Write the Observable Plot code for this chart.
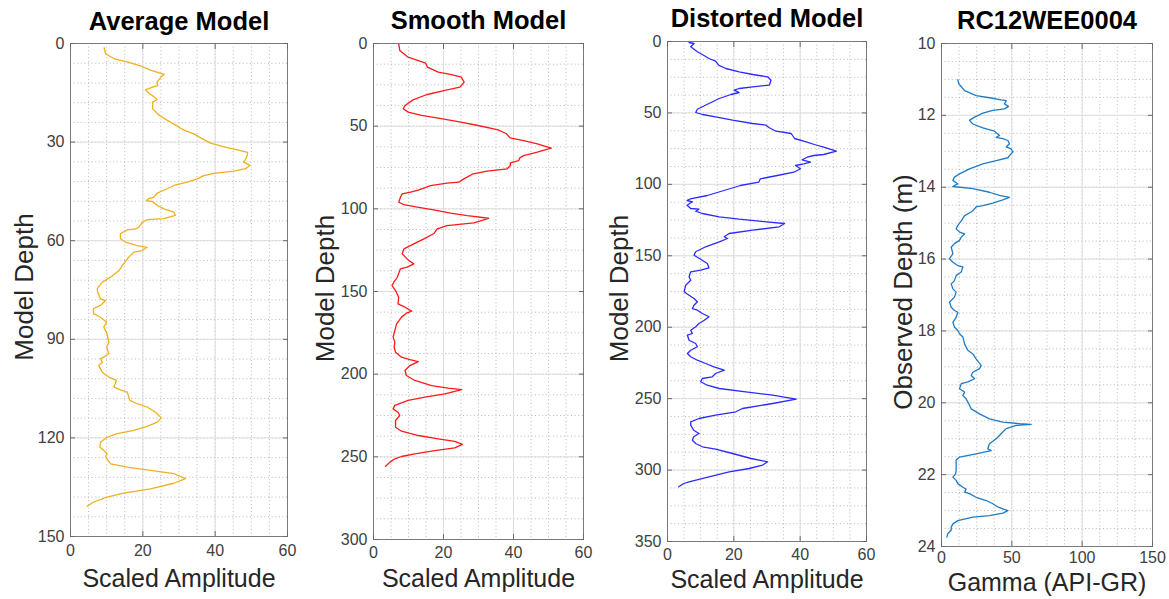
<!DOCTYPE html>
<html>
<head>
<meta charset="utf-8">
<script src="https://cdn.jsdelivr.net/npm/d3@7"></script>
<script src="https://cdn.jsdelivr.net/npm/@observablehq/plot@0.6"></script>
<style>
html, body { margin: 0; padding: 0; background: #fff; }
#chart { position: relative; width: 1169px; height: 599px; overflow: hidden; background: #fff; }
#chart svg { position: absolute; top: 0; }
</style>
</head>
<body>
<div id="chart"></div>
<script>
// ---------- tick labels ----------
const ampTicks = [0, 20, 40, 60];
const avgDepthTicks = [0, 30, 60, 90, 120, 150];
const smoothDepthTicks = [0, 50, 100, 150, 200, 250, 300];
const distortedDepthTicks = [0, 50, 100, 150, 200, 250, 300, 350];
const gammaTicks = [0, 50, 100, 150];
const observedDepthTicks = [10, 12, 14, 16, 18, 20, 22, 24];

// ---------- titles / labels ----------
const titles = ["Average Model", "Smooth Model", "Distorted Model", "RC12WEE0004"];
const xLabels = ["Scaled Amplitude", "Scaled Amplitude", "Scaled Amplitude", "Gamma (API-GR)"];
const yLabels = ["Model Depth", "Model Depth", "Model Depth", "Observed Depth (m)"];

// ---------- series: [depth, value] ----------
const averageModel = [
 [1.3,9.3],[3.1,9.7],[4.7,12.2],[5.7,15.9],[6.7,19.1],[8.2,22.3],[9.4,25.9],[10.2,25.0],[11.8,23.9],[12.8,24.1],
 [13.3,22.7],[14.1,20.7],[15.3,21.8],[16.1,23.0],[17.1,23.9],[17.8,22.7],[19.9,22.7],[21.9,24.6],[23.4,26.8],[25.0,29.3],
 [26.3,31.2],[27.5,34.1],[29.0,36.5],[30.3,38.7],[31.7,43.3],[32.6,47.0],[33.1,49.0],[34.6,48.7],[36.1,47.9],[37.1,49.6],
 [38.1,48.4],[38.8,45.2],[39.5,39.6],[40.2,36.9],[41.2,35.0],[42.2,32.3],[43.2,28.6],[44.2,26.7],[45.5,24.0],[46.8,23.0],
 [47.2,21.6],[47.8,21.0],[48.1,22.6],[49.3,24.0],[50.3,25.8],[51.3,28.6],[52.3,29.0],[53.3,25.8],[53.6,21.2],[54.4,19.8],
 [55.9,18.9],[56.4,18.0],[56.7,15.7],[57.9,13.8],[59.4,13.8],[60.4,15.2],[61.5,18.4],[62.0,21.2],[63.0,19.8],[63.5,17.5],
 [65.0,16.1],[67.0,14.7],[69.1,13.4],[71.1,11.1],[72.6,8.8],[74.6,7.4],[75.6,7.5],[77.7,8.3],[78.2,9.7],[79.7,8.3],
 [80.7,6.3],[82.2,6.4],[83.3,8.3],[84.8,10.0],[86.3,9.2],[88.3,10.1],[90.9,10.6],[92.4,10.0],[94.4,10.6],[95.4,9.2],
 [95.9,8.3],[97.0,8.8],[98.0,7.8],[100.0,8.8],[101.5,10.6],[102.5,12.7],[104.5,12.0],[105.4,13.8],[106.1,15.7],[108.6,16.4],
 [109.6,18.4],[110.6,21.2],[112.2,23.5],[113.9,25.1],[115.2,24.0],[116.5,21.2],[117.7,17.5],[118.7,12.9],[119.8,10.1],[121.3,8.3],
 [122.8,8.1],[123.8,9.2],[124.8,10.1],[125.8,9.7],[127.9,11.1],[128.9,15.7],[129.9,22.1],[130.9,28.6],[132.4,31.8],[133.8,28.6],
 [135.5,22.1],[136.8,14.7],[138.0,10.1],[139.5,6.4],[140.8,4.6]
];

const smoothModel = [
 [0.2,7.2],[4.2,7.5],[8.3,9.9],[10.3,12.8],[11.9,14.9],[14.3,15.4],[17.3,18.5],[18.8,22.3],[20.4,25.1],[23.4,25.9],
 [26.4,24.7],[28.4,20.4],[31.0,15.1],[34.1,11.3],[37.5,9.0],[39.5,8.5],[41.5,9.9],[43.5,13.7],[45.2,18.5],[47.2,24.2],
 [49.6,29.9],[52.2,35.6],[54.6,38.0],[57.1,39.0],[58.7,42.9],[60.7,46.8],[63.3,50.8],[65.7,46.8],[67.8,42.9],[69.2,41.8],
 [70.8,41.5],[72.2,39.1],[73.8,39.1],[75.8,38.2],[77.2,32.5],[78.8,28.5],[80.5,27.0],[81.9,25.8],[83.9,24.4],[84.5,21.0],
 [85.9,16.3],[88.5,13.0],[89.9,10.6],[90.9,8.2],[93.0,7.7],[96.0,7.2],[97.4,8.7],[99.0,12.5],[100.6,17.2],[102.6,22.0],
 [104.1,26.8],[105.7,32.9],[108.5,28.7],[110.1,21.0],[112.1,18.2],[115.1,17.2],[118.2,14.4],[121.2,11.5],[124.2,8.7],[127.2,8.2],
 [131.3,10.1],[133.3,11.5],[135.3,9.6],[136.3,7.7],[141.4,6.8],[144.4,5.8],[146.4,5.3],[149.4,6.3],[153.5,7.2],[157.5,7.0],
 [159.5,9.0],[161.9,10.9],[163.1,9.4],[165.5,8.0],[169.6,6.6],[173.6,6.1],[177.6,5.6],[180.6,6.1],[183.7,5.9],[186.7,6.3],
 [189.7,8.0],[191.2,10.4],[192.4,12.8],[194.8,10.4],[197.8,9.0],[200.8,9.4],[203.8,11.8],[206.9,16.6],[208.5,21.3],[209.4,25.2],
 [211.9,20.4],[213.9,14.7],[215.9,9.9],[218.9,6.1],[221.0,5.6],[223.0,7.0],[225.0,7.5],[228.0,6.3],[232.1,6.3],[234.5,8.0],
 [237.1,12.8],[239.1,18.5],[240.7,23.2],[242.5,25.4],[244.6,23.2],[246.2,17.5],[248.2,11.8],[249.8,8.0],[251.2,6.1],[253.2,4.7],
 [255.8,3.4]
];

const distortedModel = [
 [0.7,6.5],[1.4,8.0],[3.7,7.0],[7.2,9.0],[9.1,10.5],[11.9,12.5],[13.8,14.5],[16.6,15.4],[18.9,17.6],[21.2,21.6],
 [23.1,25.7],[24.7,30.2],[27.1,31.2],[30.6,30.7],[31.7,25.7],[32.9,21.6],[34.1,20.1],[35.7,21.6],[37.1,19.1],[39.9,15.6],
 [43.4,12.5],[45.7,10.5],[47.4,9.0],[49.7,8.5],[51.1,10.5],[52.7,14.5],[55.1,19.6],[57.4,25.7],[58.6,29.7],[60.4,30.7],
 [62.8,32.7],[64.4,37.3],[67.9,38.3],[70.2,41.8],[72.1,44.3],[74.0,47.1],[76.8,50.9],[79.1,47.1],[79.8,44.1],[81.0,42.1],
 [82.8,40.6],[84.5,43.1],[85.6,41.1],[86.8,38.6],[89.1,40.1],[91.5,38.1],[93.8,33.1],[96.1,28.0],[98.5,27.5],[100.8,22.0],
 [104.3,17.0],[107.8,12.0],[110.1,6.9],[111.3,5.9],[112.2,7.5],[114.6,5.9],[116.9,7.0],[117.4,9.5],[118.8,8.5],[120.4,10.5],
 [122.7,15.6],[124.4,21.6],[126.2,29.7],[127.4,35.3],[129.7,33.7],[132.1,25.7],[134.4,18.6],[136.7,17.1],[137.9,18.1],[140.2,15.6],
 [143.7,11.5],[147.2,8.5],[149.6,8.0],[152.4,10.0],[155.4,12.0],[158.4,12.5],[160.1,10.0],[161.2,7.0],[164.7,6.5],[167.1,7.0],
 [170.6,5.5],[175.2,5.0],[177.6,6.5],[179.9,8.0],[182.2,9.0],[184.6,8.0],[186.9,7.5],[188.1,9.0],[190.4,10.5],[192.7,12.5],
 [195.1,11.1],[197.4,9.5],[199.7,8.5],[202.1,7.0],[204.4,7.5],[205.6,6.0],[209.1,6.5],[211.4,8.5],[213.7,9.0],[216.1,7.0],
 [218.4,6.0],[220.7,7.0],[223.1,9.0],[225.4,11.5],[227.7,14.0],[230.1,17.1],[232.4,14.5],[234.7,13.5],[235.9,10.5],[238.2,10.0],
 [240.6,12.0],[242.9,15.6],[245.2,23.6],[247.6,31.7],[250.3,38.8],[253.4,31.7],[256.9,22.6],[259.2,20.6],[261.5,14.5],[263.9,9.5],
 [266.2,7.0],[268.5,7.0],[272.1,7.9],[274.4,9.5],[276.7,7.9],[279.1,7.5],[281.4,8.5],[283.7,10.5],[285.4,14.5],[288.4,19.6],
 [291.9,25.2],[294.2,30.2],[296.5,28.7],[298.9,24.6],[301.2,18.6],[304.7,12.5],[308.2,6.5],[309.4,4.9],[311.7,3.4]
];

const rc12wee0004 = [
 [11.01,11.6],[11.12,12.3],[11.31,16.4],[11.45,24.6],[11.51,34.1],[11.57,42.4],[11.59,46.0],[11.68,44.8],[11.75,47.6],[11.82,44.8],
 [11.86,36.5],[11.94,29.4],[12.05,23.5],[12.14,19.9],[12.24,22.3],[12.35,29.4],[12.44,37.7],[12.56,41.2],[12.61,38.9],[12.65,43.6],
 [12.70,47.2],[12.79,48.3],[12.88,46.0],[12.93,49.5],[13.02,50.7],[13.12,48.3],[13.18,47.2],[13.26,38.9],[13.35,29.4],[13.49,19.9],
 [13.63,12.8],[13.72,9.2],[13.81,8.1],[13.91,11.6],[13.95,9.2],[13.98,8.1],[14.04,22.3],[14.14,34.1],[14.23,41.2],[14.28,48.3],
 [14.35,43.6],[14.44,36.5],[14.51,29.4],[14.55,24.6],[14.65,22.3],[14.69,21.1],[14.79,16.4],[14.93,14.2],[15.06,11.6],[15.16,10.4],
 [15.25,12.8],[15.30,16.4],[15.39,14.0],[15.48,12.8],[15.57,9.2],[15.67,6.9],[15.85,8.1],[15.99,5.7],[16.09,8.1],[16.18,11.6],
 [16.22,15.2],[16.36,14.0],[16.46,10.4],[16.60,9.2],[16.69,6.9],[16.83,8.1],[16.92,10.4],[17.06,9.2],[17.20,5.7],[17.34,6.9],
 [17.43,9.2],[17.48,11.6],[17.62,10.4],[17.76,8.1],[17.89,9.2],[17.99,11.6],[18.08,12.8],[18.17,15.2],[18.36,16.4],[18.54,18.7],
 [18.64,22.3],[18.78,24.6],[18.96,28.2],[19.05,27.0],[19.15,22.3],[19.24,21.1],[19.33,23.5],[19.42,18.7],[19.47,14.0],[19.61,12.8],
 [19.70,16.4],[19.80,15.2],[19.89,17.5],[20.07,19.9],[20.17,21.1],[20.31,27.0],[20.45,34.1],[20.54,43.6],[20.58,55.5],[20.60,63.7],
 [20.63,53.1],[20.72,46.0],[20.86,42.4],[21.00,38.9],[21.14,34.1],[21.28,32.9],[21.33,35.3],[21.42,24.6],[21.51,12.8],[21.60,10.4],
 [21.88,10.4],[21.98,10.0],[22.07,8.1],[22.16,10.4],[22.25,11.6],[22.35,15.2],[22.40,17.5],[22.49,16.4],[22.53,19.9],[22.63,24.6],
 [22.72,31.8],[22.81,36.5],[22.90,40.0],[22.95,43.6],[23.00,47.2],[23.07,43.6],[23.14,34.1],[23.18,22.3],[23.28,11.6],[23.37,8.1],
 [23.46,6.9],[23.55,6.9],[23.64,4.5],[23.74,3.8]
];

// ---------- layout / style per panel ----------
const panels = [
  {data: averageModel, color: "#EDB120", xDomain: [0, 60], yDomain: [0, 150], xTicks: ampTicks, yTicks: avgDepthTicks,
   xMinor: 5, yMinor: 6, box: [70, 43, 287, 536], titleBase: 29, yLabelDx: -46, xTickPad: 13, xLabelBase: 586},
  {data: smoothModel, color: "#FF1A1A", xDomain: [0, 60], yDomain: [0, 300], xTicks: ampTicks, yTicks: smoothDepthTicks,
   xMinor: 5, yMinor: 12.5, box: [373, 43, 583, 539], titleBase: 28, yLabelDx: -48, xTickPad: 12, xLabelBase: 586},
  {data: distortedModel, color: "#2B2BFF", xDomain: [0, 60], yDomain: [0, 350], xTicks: ampTicks, yTicks: distortedDepthTicks,
   xMinor: 5, yMinor: 12.5, box: [667, 41, 866, 541], titleBase: 26, yLabelDx: -48, xTickPad: 12, xLabelBase: 587},
  {data: rc12wee0004, color: "#1F7CC4", xDomain: [0, 150], yDomain: [10, 24], xTicks: gammaTicks, yTicks: observedDepthTicks,
   xMinor: 12.5, yMinor: 0.5, box: [941, 43, 1152, 546], titleBase: 28, yLabelDx: -38, xTickPad: 10, xLabelBase: 590}
];

const FONT = "'Liberation Sans', Arial, Helvetica, sans-serif";
const H = 599;
const container = document.getElementById("chart");

panels.forEach((p, i) => {
  const [L, T, R, B] = p.box;
  const ml = 65, mr = 15;
  const xMinorVals = d3.range(p.xDomain[0], p.xDomain[1] + 1e-9, p.xMinor);
  const yMinorVals = d3.range(p.yDomain[0], p.yDomain[1] + 1e-9, p.yMinor);
  const svg = Plot.plot({
    width: R - L + ml + mr,
    height: H,
    marginLeft: ml, marginRight: mr, marginTop: T, marginBottom: H - B,
    x: {domain: p.xDomain},
    y: {domain: p.yDomain, reverse: true},
    style: `background: transparent; overflow: visible; font-family: ${FONT}; color: #404040;`,
    marks: [
      Plot.gridX(xMinorVals, {stroke: "#b8b8b8", strokeOpacity: 1, strokeDasharray: "1,2.6"}),
      Plot.gridY(yMinorVals, {stroke: "#b8b8b8", strokeOpacity: 1, strokeDasharray: "1,2.6"}),
      Plot.gridX(p.xTicks, {stroke: "#dedede", strokeOpacity: 1}),
      Plot.gridY(p.yTicks, {stroke: "#dedede", strokeOpacity: 1}),
      Plot.line(p.data, {x: d => d[1], y: d => d[0], stroke: p.color, strokeWidth: 1.3}),
      Plot.frame({stroke: "#7a7a7a", strokeWidth: 1}),
      Plot.axisX(p.xTicks, {anchor: "bottom", tickSize: -5, tickPadding: p.xTickPad, fontSize: 16, stroke: "#6a6a6a", fill: "#404040", label: null}),
      Plot.axisX(p.xTicks, {anchor: "top", tickSize: -5, tickFormat: () => "", stroke: "#6a6a6a", label: null}),
      Plot.axisY(p.yTicks, {anchor: "left", tickSize: -5, tickPadding: 11, fontSize: 16, stroke: "#6a6a6a", fill: "#404040", label: null}),
      Plot.axisY(p.yTicks, {anchor: "right", tickSize: -5, tickFormat: () => "", stroke: "#6a6a6a", label: null}),
      Plot.text([titles[i]], {text: d => d, frameAnchor: "top", textAnchor: "middle", lineAnchor: "bottom",
        dy: p.titleBase - T, fontSize: 25.5, fontWeight: "bold", fill: "#000"}),
      Plot.text([xLabels[i]], {text: d => d, frameAnchor: "bottom", textAnchor: "middle", lineAnchor: "bottom",
        dy: p.xLabelBase - B, fontSize: 25, fill: "#262626"}),
      Plot.text([yLabels[i]], {text: d => d, frameAnchor: "left", textAnchor: "middle", lineAnchor: "middle",
        rotate: -90, dx: p.yLabelDx, dy: -3, fontSize: 26, fill: "#262626"})
    ]
  });
  svg.style.left = (L - ml) + "px";
  container.append(svg);
});
</script>
</body>
</html>
